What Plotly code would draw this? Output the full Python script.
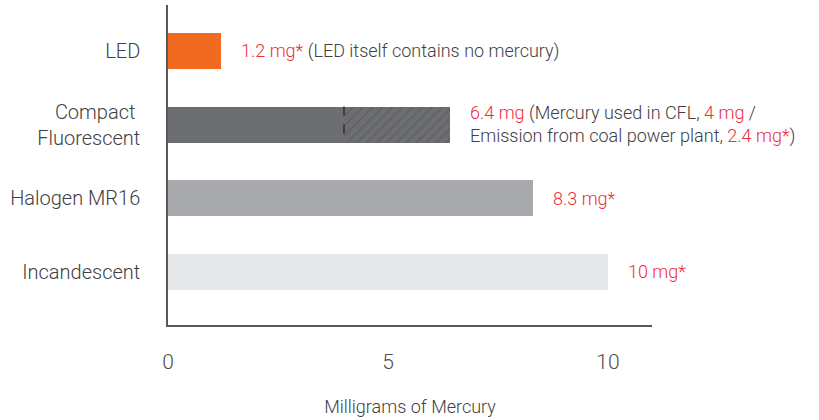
import plotly.graph_objects as go

# Mercury footprint per lamp type (mg)
categories = ["LED", "Compact <br>Fluorescent", "Halogen MR16", "Incandescent"]
totals = [1.2, 6.4, 8.3, 10]
cfl_in_lamp = 4.0          # mercury contained in the CFL itself
cfl_power_plant = 2.4      # emission from coal power plant
bar_colors = ["#F26A21", "#6D6E71", "#A7A9AC", "#E6E7E8"]
x_ticks = [0, 5, 10]

RED = "#EE2D3A"
TEXT = "#414042"
FONT = "Roboto"

cfl_idx = 1
solid_vals = [v if i != cfl_idx else cfl_in_lamp for i, v in enumerate(totals)]
hatch_vals = [0 if i != cfl_idx else cfl_power_plant for i in range(len(totals))]

fig = go.Figure()
fig.add_trace(go.Bar(
    y=categories, x=solid_vals, orientation="h", width=0.49,
    marker=dict(color=bar_colors, line=dict(width=0)),
    hoverinfo="skip",
))
fig.add_trace(go.Bar(
    y=categories, x=hatch_vals, orientation="h", width=0.49,
    marker=dict(color="#6D6E71", line=dict(width=0),
                pattern=dict(shape="/", fgcolor="#545456", bgcolor="#6D6E71",
                             size=7, solidity=0.25)),
    hoverinfo="skip",
))

# dashed divider between the two CFL components
fig.add_shape(type="line", x0=cfl_in_lamp, x1=cfl_in_lamp,
              y0=cfl_idx - 0.245, y1=cfl_idx + 0.245, xref="x", yref="y",
              line=dict(color="#2E2E30", width=1.5, dash="dash"))


def red(s):
    return f'<span style="color:{RED}">{s}</span>'


labels = [
    red(f"{totals[0]} mg*") + " (LED itself contains no mercury)",
    red(f"{totals[1]} mg") + " (Mercury used in CFL, " + red(f"{cfl_in_lamp:g} mg") + " /<br>"
    + "Emission from coal power plant, " + red(f"{cfl_power_plant} mg*") + ")",
    red(f"{totals[2]} mg*"),
    red(f"{totals[3]} mg*"),
]
for cat, val, txt in zip(categories, totals, labels):
    fig.add_annotation(x=val, y=cat, xref="x", yref="y", text=txt,
                       showarrow=False, xanchor="left", align="left",
                       xshift=18, font=dict(family=FONT, size=18, color=TEXT, weight=300))

fig.update_layout(
    width=819, height=420,
    margin=dict(l=168, r=167, t=5, b=95),
    paper_bgcolor="white", plot_bgcolor="white",
    barmode="stack", showlegend=False,
    font=dict(family=FONT, color=TEXT, weight=300),
)
fig.update_xaxes(
    range=[0, 11], tickvals=x_ticks, showgrid=False, zeroline=False,
    showline=True, linecolor="#58595B", linewidth=1.5,
    ticks="", ticklabelstandoff=17, automargin=False,
    tickfont=dict(family=FONT, size=21, color="#4D4D4F", weight=300),
    title=dict(text="Milligrams of Mercury", standoff=27,
               font=dict(family=FONT, size=18, color=TEXT, weight=300)),
)
fig.update_yaxes(
    range=[3.72, -0.624], showgrid=False, zeroline=False,
    showline=True, linecolor="#58595B", linewidth=1.5,
    ticks="", ticklabelstandoff=22, automargin=False,
    tickfont=dict(family=FONT, size=20, color=TEXT, weight=300),
)

fig.write_html("out.html")
